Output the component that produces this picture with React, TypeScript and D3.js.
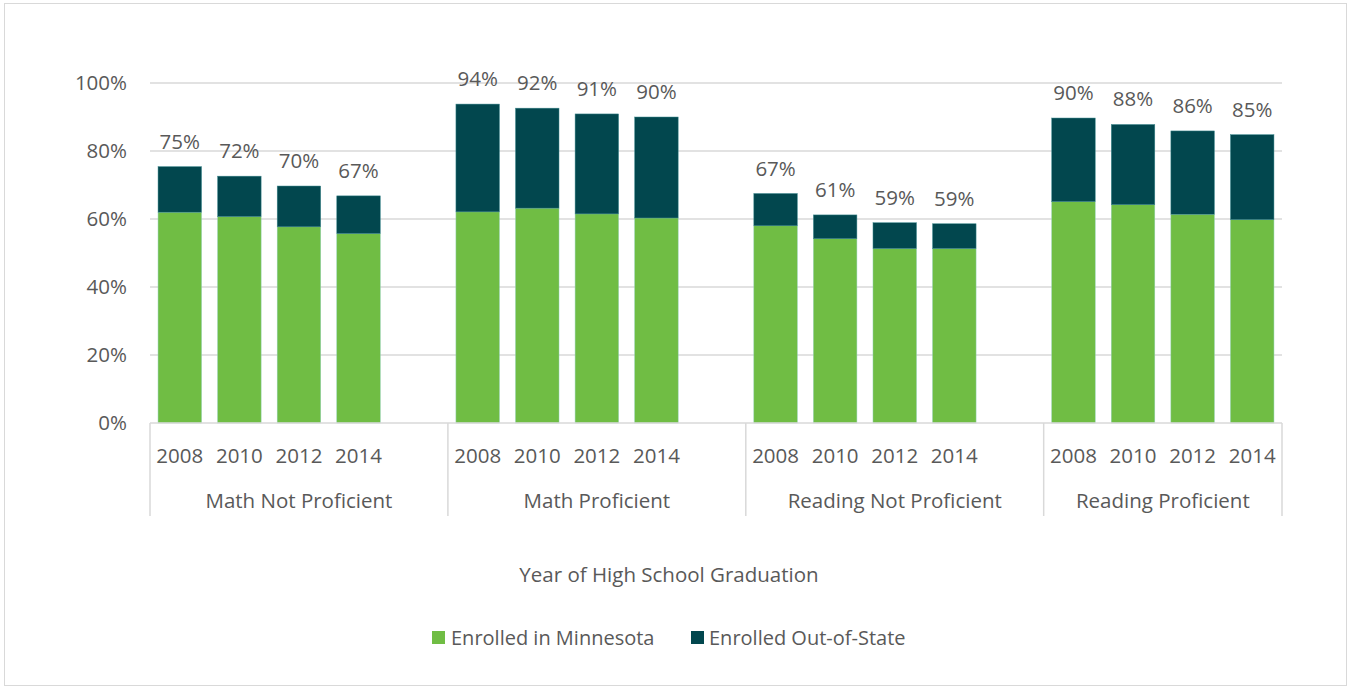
import React from "react";
import * as d3 from "d3";

const groups = ["Math Not Proficient", "Math Proficient", "Reading Not Proficient", "Reading Proficient"];
const years = ["2008", "2010", "2012", "2014"];
// Enrolled in Minnesota (%), per group, per year
const inMN = [
  [62.0, 60.7, 57.7, 55.7],
  [62.1, 63.2, 61.5, 60.3],
  [58.0, 54.2, 51.3, 51.3],
  [65.1, 64.2, 61.4, 59.8],
];
// Total enrolled (%), per group, per year
const totals = [
  [75.4, 72.6, 69.7, 66.8],
  [93.8, 92.6, 90.9, 90.0],
  [67.5, 61.2, 58.9, 58.6],
  [89.7, 87.8, 85.9, 84.8],
];
const totalLabels = [
  ["75%", "72%", "70%", "67%"],
  ["94%", "92%", "91%", "90%"],
  ["67%", "61%", "59%", "59%"],
  ["90%", "88%", "86%", "85%"],
];
const yTicks = [0, 20, 40, 60, 80, 100];
const seriesNames = ["Enrolled in Minnesota", "Enrolled Out-of-State"];
const colors = ["#70BD44", "#02474E"];

const W = 1351, H = 688;
const left = 150, right = 1282, top = 83, bottom = 423;
const FONT = "'Open Sans', Lato, sans-serif";
const FS = 20.5;
const TXT = "#595959";

export default function App() {
  const slots: string[] = [];
  groups.forEach((g, gi) => {
    years.forEach((y) => slots.push(`${gi}-${y}`));
    if (gi < groups.length - 1) slots.push(`${gi}-blank`);
  });
  const x = d3.scaleBand<string>().domain(slots).range([left, right]).paddingInner(0.27).paddingOuter(0.135);
  const y = d3.scaleLinear().domain([0, 100]).range([bottom, top]);
  const step = x.step();
  const groupStart = (gi: number) => left + gi * 5 * step;
  const groupEnd = (gi: number) => (gi < groups.length - 1 ? groupStart(gi + 1) : right);

  const bars: React.ReactNode[] = [];
  groups.forEach((g, gi) => {
    years.forEach((yr, yi) => {
      const key = `${gi}-${yr}`;
      const bx = x(key)!;
      const bw = x.bandwidth();
      const mn = inMN[gi][yi];
      const tot = totals[gi][yi];
      bars.push(
        <g key={key}>
          <rect x={bx} y={y(mn)} width={bw} height={y(0) - y(mn)} fill={colors[0]} stroke="#8FD0B0" strokeWidth={0.5} />
          <rect x={bx} y={y(tot)} width={bw} height={y(mn) - y(tot)} fill={colors[1]} stroke="#3F8A8F" strokeWidth={0.5} />
          <text x={bx + bw / 2} y={y(tot) - 18} textAnchor="middle" fontSize={FS} fill={TXT}>
            {totalLabels[gi][yi]}
          </text>
          <text x={bx + bw / 2} y={463} textAnchor="middle" fontSize={FS} fill={TXT}>
            {yr}
          </text>
        </g>
      );
    });
  });

  return (
    <svg width={W} height={H} style={{ position: "absolute", left: 0, top: 0 }} fontFamily={FONT}>
      <rect x={0} y={0} width={W} height={H} fill="#fff" />
      <rect x={4.5} y={3.5} width={1342} height={682} fill="#fff" stroke="#D9D9D9" strokeWidth={1} />
      {yTicks.map((t) => (
        <g key={t}>
          {t > 0 && <line x1={left} x2={right} y1={y(t)} y2={y(t)} stroke="#D9D9D9" strokeWidth={1.5} />}
          <text x={127} y={y(t) + 7} textAnchor="end" fontSize={FS} fill={TXT}>
            {t}%
          </text>
        </g>
      ))}
      {bars}
      <line x1={left} x2={right} y1={bottom} y2={bottom} stroke="#D9D9D9" strokeWidth={1.5} />
      {groups.map((g, gi) => (
        <g key={g}>
          <line x1={groupStart(gi)} x2={groupStart(gi)} y1={bottom} y2={516} stroke="#D9D9D9" strokeWidth={1.5} />
          <text x={(groupStart(gi) + groupEnd(gi)) / 2} y={508} textAnchor="middle" fontSize={FS} fill={TXT}>
            {g}
          </text>
        </g>
      ))}
      <line x1={right} x2={right} y1={bottom} y2={516} stroke="#D9D9D9" strokeWidth={1.5} />
      <text x={669} y={582} textAnchor="middle" fontSize={FS} fill={TXT}>
        Year of High School Graduation
      </text>
      <g>
        <rect x={432} y={631} width={13} height={13} fill={colors[0]} />
        <text x={451} y={645} fontSize={20} fill={TXT}>{seriesNames[0]}</text>
        <rect x={691} y={631} width={13} height={13} fill={colors[1]} />
        <text x={709} y={645} fontSize={20} fill={TXT}>{seriesNames[1]}</text>
      </g>
    </svg>
  );
}
